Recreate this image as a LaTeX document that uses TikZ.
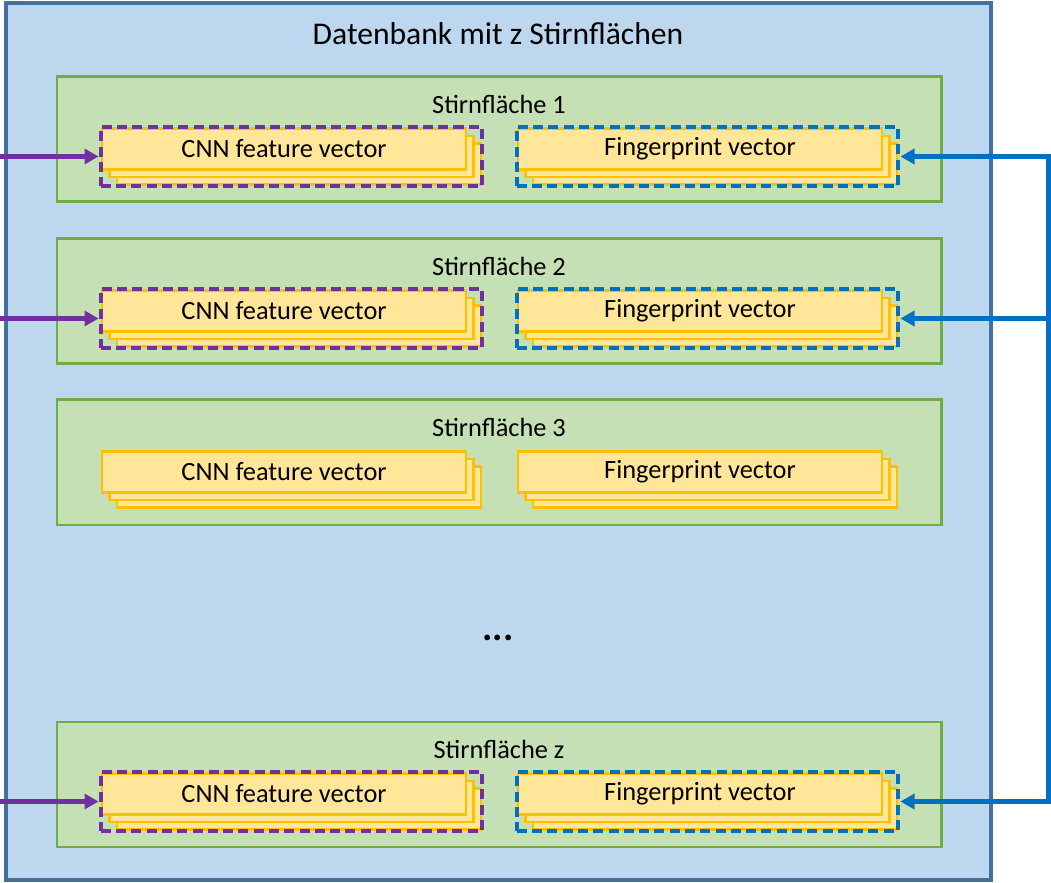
\documentclass[tikz,border=0pt]{standalone}
\usepackage{fontspec}
\setmainfont{Carlito}
\usepackage{xcolor}
\usepackage{tikz}
\usetikzlibrary{arrows.meta,fit}

\definecolor{dbfill}{HTML}{BDD7EE}
\definecolor{dbline}{HTML}{41719C}
\definecolor{sffill}{HTML}{C5E0B4}
\definecolor{sfline}{HTML}{70AD47}
\definecolor{cardfill}{HTML}{FFE699}
\definecolor{cardline}{HTML}{FFC000}
\definecolor{cnnline}{HTML}{7030A0}
\definecolor{fpline}{HTML}{0070C0}

\begin{document}
\begin{tikzpicture}[
      dbbox/.style={draw=dbline, fill=dbfill, line width=2pt, inner sep=0pt,
        minimum width=19.7cm, minimum height=17.54cm},
      sfbox/.style={draw=sfline, fill=sffill, line width=1.7pt, inner sep=0pt,
        minimum width=17.68cm, minimum height=2.5cm},
      card/.style={draw=cardline, fill=cardfill, line width=1.4pt, inner sep=0pt,
        minimum width=7.28cm, minimum height=0.82cm, lbl},
      sel/.style={draw, dash pattern=on 5.7pt off 3pt, line width=2.5pt, inner sep=0pt},
      arr/.style={-{Triangle[length=8pt, width=8.5pt]}, line width=2.4pt},
      lbl/.style={font=\fontsize{15}{18}\selectfont}
    ]
    \useasboundingbox (0,0) rectangle (21.02,17.64);

    % ══ DATABASE ══════════════════════════════════════════════════════════════
    \node[dbbox] (db) at (9.97, 8.81) {};
    \node[font=\fontsize{18}{22}\selectfont] (dbtitle) at (9.96, 16.96)
      {Datenbank mit z Stirnflächen};

    % ══ ROW 1 ═════════════════════════════════════════════════════════════════
    \begin{scope}[yshift=14.66cm]
      \node[sfbox] (sf1) at (9.98, 0.19) {};
      \node[lbl] (sf1title) at (9.98, 0.9) {Stirnfläche 1};
      \node[card] (cnn1c) at (5.98, -0.3) {};
      \node[card] (cnn1b) at (5.83, -0.15) {};
      \node[card] (cnn1) at (5.68, 0) {CNN feature vector};
      \node[card] (fp1c) at (14.3, -0.3) {};
      \node[card] (fp1b) at (14.15, -0.15) {};
      \node[card] (fp1) at (14.0, 0) {Fingerprint vector};
      \node[sel, cnnline, fit=(cnn1)(cnn1c)] (cnnsel1) {};
      \node[sel, fpline, fit=(fp1)(fp1c)] (fpsel1) {};
    \end{scope}

    % ══ ROW 2 ═════════════════════════════════════════════════════════════════
    \begin{scope}[yshift=11.42cm]
      \node[sfbox] (sf2) at (9.98, 0.19) {};
      \node[lbl] (sf2title) at (9.98, 0.9) {Stirnfläche 2};
      \node[card] (cnn2c) at (5.98, -0.3) {};
      \node[card] (cnn2b) at (5.83, -0.15) {};
      \node[card] (cnn2) at (5.68, 0) {CNN feature vector};
      \node[card] (fp2c) at (14.3, -0.3) {};
      \node[card] (fp2b) at (14.15, -0.15) {};
      \node[card] (fp2) at (14.0, 0) {Fingerprint vector};
      \node[sel, cnnline, fit=(cnn2)(cnn2c)] (cnnsel2) {};
      \node[sel, fpline, fit=(fp2)(fp2c)] (fpsel2) {};
    \end{scope}

    % ══ ROW 3: not selected ═══════════════════════════════════════════════════
    \begin{scope}[yshift=8.2cm]
      \node[sfbox] (sf3) at (9.98, 0.19) {};
      \node[lbl] (sf3title) at (9.98, 0.9) {Stirnfläche 3};
      \node[card] (cnn3c) at (5.98, -0.3) {};
      \node[card] (cnn3b) at (5.83, -0.15) {};
      \node[card] (cnn3) at (5.68, 0) {CNN feature vector};
      \node[card] (fp3c) at (14.3, -0.3) {};
      \node[card] (fp3b) at (14.15, -0.15) {};
      \node[card] (fp3) at (14.0, 0) {Fingerprint vector};
    \end{scope}

    \node[font=\bfseries\fontsize{22}{26}\selectfont] (dots) at (9.96, 4.88) {...};

    % ══ ROW z ═════════════════════════════════════════════════════════════════
    \begin{scope}[yshift=1.76cm]
      \node[sfbox] (sfz) at (9.98, 0.19) {};
      \node[lbl] (sfztitle) at (9.98, 0.9) {Stirnfläche z};
      \node[card] (cnnzc) at (5.98, -0.3) {};
      \node[card] (cnnzb) at (5.83, -0.15) {};
      \node[card] (cnnz) at (5.68, 0) {CNN feature vector};
      \node[card] (fpzc) at (14.3, -0.3) {};
      \node[card] (fpzb) at (14.15, -0.15) {};
      \node[card] (fpz) at (14.0, 0) {Fingerprint vector};
      \node[sel, cnnline, fit=(cnnz)(cnnzc)] (cnnselz) {};
      \node[sel, fpline, fit=(fpz)(fpzc)] (fpselz) {};
    \end{scope}

    % ══ INPUTS ════════════════════════════════════════════════════════════════
    \coordinate (left) at (0, 0);
    \coordinate (busx) at (20.97, 0);
    \coordinate (in1) at (cnnsel1.west -| left);
    \coordinate (in2) at (cnnsel2.west -| left);
    \coordinate (inz) at (cnnselz.west -| left);
    \coordinate (bus1) at (fpsel1.east -| busx);
    \coordinate (bus2) at (fpsel2.east -| busx);
    \coordinate (busz) at (fpselz.east -| busx);

    % purple: CNN features
    \draw[arr, cnnline] (in1) -- (cnnsel1.west);
    \draw[arr, cnnline] (in2) -- (cnnsel2.west);
    \draw[arr, cnnline] (inz) -- (cnnselz.west);

    % blue: fingerprints, one bus on the right
    \draw[{Triangle[length=8pt, width=8.5pt]}-{Triangle[length=8pt, width=8.5pt]},
      line width=2.4pt, fpline] (fpsel1.east) -- (bus1) -- (busz) -- (fpselz.east);
    \draw[arr, fpline] (bus2) -- (fpsel2.east);

  \end{tikzpicture}
\end{document}
